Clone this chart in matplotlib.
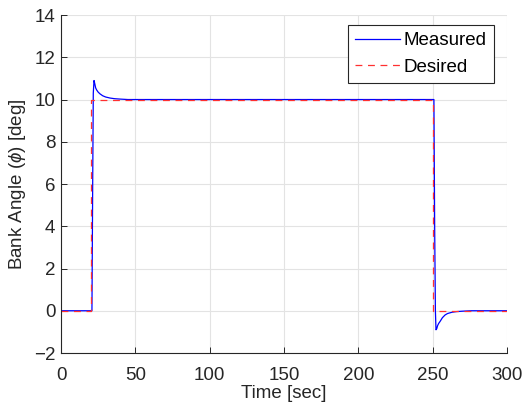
import matplotlib
matplotlib.use("Agg")
import matplotlib.pyplot as plt

plt.rcParams['font.family'] = ['Liberation Sans', 'DejaVu Sans']
plt.rcParams['mathtext.fontset'] = 'custom'
plt.rcParams['mathtext.it'] = 'Liberation Sans:italic'

# desired bank angle command
t_des = [0, 20, 20, 250, 250, 300]
phi_des = [0, 0, 10, 10, 0, 0]

# measured bank angle
t_meas = [0, 20, 20.8, 21.3, 21.7, 22.2, 22.7, 23.3, 24, 25, 26.2, 28, 30, 33,
          36, 40, 45, 250, 250.8, 251.3, 251.8, 252.2, 252.7, 253.3, 254, 255,
          256.5, 258.3, 260, 263, 266, 270, 276, 300]
phi_meas = [0, 0, 0, 6, 10.3, 10.9, 10.75, 10.55, 10.45, 10.35, 10.27, 10.18,
            10.12, 10.07, 10.04, 10.02, 10.0, 10.0, 10.0, 4.0, 0.0, -0.9,
            -0.85, -0.7, -0.6, -0.5, -0.33, -0.2, -0.13, -0.07, -0.04, -0.02,
            0.0, 0.0]

fs = 13.5

fig = plt.figure(figsize=(5.26, 4.18), dpi=100)
ax = fig.add_axes([0.116, 0.1555, 0.848, 0.8085])

ax.plot(t_meas, phi_meas, color='#0000ff', lw=0.9, label='Measured')
ax.plot(t_des, phi_des, color='#ff3030', lw=0.9, ls=(0, (5.5, 4.5)), label='Desired')

ax.set_xlim(0, 300)
ax.set_ylim(-2, 14)
ax.set_xticks(range(0, 301, 50))
ax.set_yticks(range(-2, 15, 2))
ax.grid(True, color='#e3e3e3', lw=0.8)
ax.set_axisbelow(True)
ax.tick_params(direction='in', length=4, width=0.7, colors='#262626',
               labelsize=fs, top=False, right=False)
ax.tick_params(axis='x', pad=10)
ax.tick_params(axis='y', pad=4)
for s in ['left', 'bottom']:
    ax.spines[s].set_color('#262626')
    ax.spines[s].set_linewidth(0.8)
for s in ['top', 'right']:
    ax.spines[s].set_visible(False)

ax.set_xlabel('Time [sec]', fontsize=fs, color='#262626', labelpad=0.5)
ax.set_ylabel(r'Bank Angle ($\phi$) [deg]', fontsize=fs, color='#262626', labelpad=4)

leg = ax.legend(loc='upper right', fontsize=fs, fancybox=False, framealpha=1,
                edgecolor='#262626', handlelength=2.4, handletextpad=0.15,
                borderpad=0.4, labelspacing=0.5, borderaxespad=0,
                bbox_to_anchor=(0.97, 0.972))
leg.get_frame().set_linewidth(0.8)

fig.savefig('out.png', dpi=100)
